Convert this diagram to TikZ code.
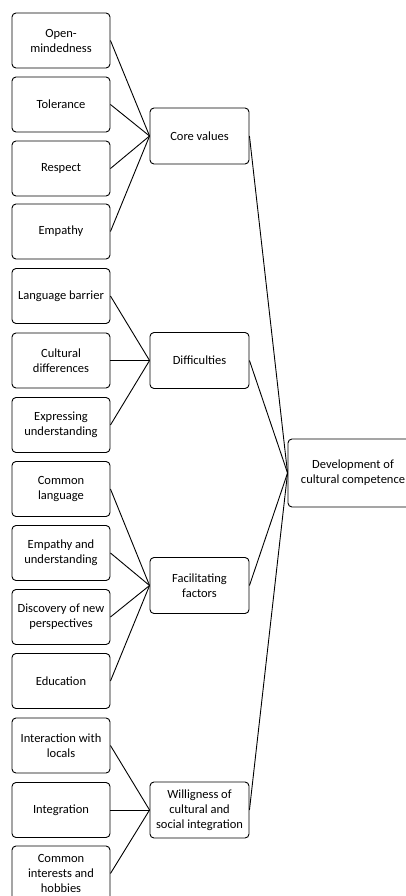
\documentclass[tikz,border=0pt]{standalone}
\usepackage{fontspec}
\setmainfont{Carlito}
\begin{document}
\begin{tikzpicture}[x=1pt,y=-1pt,
  box/.style={draw=black,line width=0.9pt,rounded corners=4pt,align=center,inner sep=0pt,
    font=\fontsize{12.5}{15}\selectfont},
  leaf/.style={box,minimum width=98pt,minimum height=55pt},
  mid/.style={box,minimum width=99pt,minimum height=56pt},
  link/.style={line width=0.9pt}]
\useasboundingbox (0,0) rectangle (406,896);
\clip (0,0) rectangle (406,896);
% leaves
\node[leaf] (l1) at (61,40.5) {Open-\\mindedness};
\node[leaf] (l2) at (61,104.5) {Tolerance};
\node[leaf] (l3) at (61,168.5) {Respect};
\node[leaf] (l4) at (61,231.5) {Empathy};
\node[leaf] (l5) at (61,296) {Language barrier};
\node[leaf] (l6) at (61,360.5) {Cultural\\differences};
\node[leaf] (l7) at (61,425) {Expressing\\understanding};
\node[leaf] (l8) at (61,489) {Common\\language};
\node[leaf] (l9) at (61,553) {Empathy and\\understanding};
\node[leaf] (l10) at (61,617) {Discovery of new\\perspectives};
\node[leaf] (l11) at (61,681) {Education};
\node[leaf] (l12) at (61,745.5) {Interaction with\\locals};
\node[leaf] (l13) at (61,810) {Integration};
\node[leaf] (l14) at (61,873.5) {Common\\interests and\\hobbies};
% middle
\node[mid] (m1) at (199.5,136) {Core values};
\node[mid] (m2) at (199.5,360.5) {Difficulties};
\node[mid] (m3) at (199.5,585.5) {Facilitating\\factors};
\node[mid] (m4) at (199.5,810) {Willigness of\\cultural and\\social integration};
% root
\node[box,minimum width=130pt,minimum height=68pt] (r) at (353,473) {Development of\\cultural competence};
% connectors
\foreach \a in {l1,l2,l3,l4} \draw[link] (\a.east) -- (m1.west);
\foreach \a in {l5,l6,l7} \draw[link] (\a.east) -- (m2.west);
\foreach \a in {l8,l9,l10,l11} \draw[link] (\a.east) -- (m3.west);
\foreach \a in {l12,l13,l14} \draw[link] (\a.east) -- (m4.west);
\foreach \a in {m1,m2,m3,m4} \draw[link] (\a.east) -- (r.west);
\end{tikzpicture}
\end{document}
